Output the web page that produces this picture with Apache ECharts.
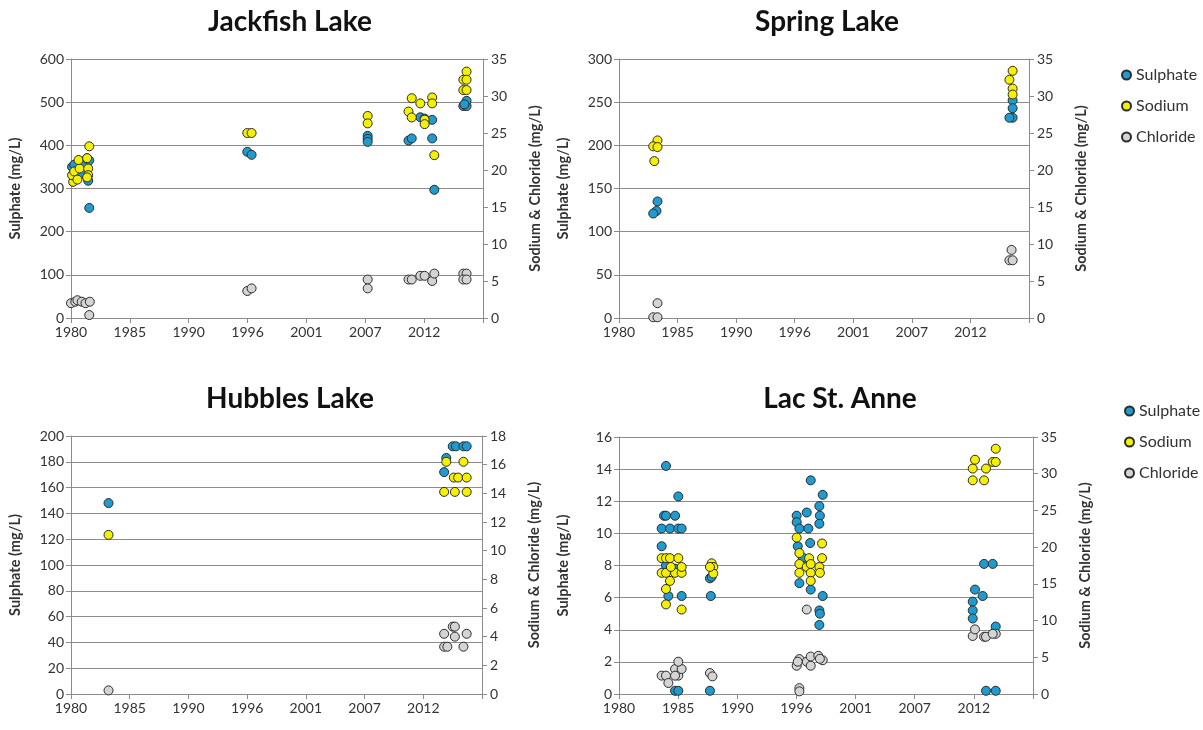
<!DOCTYPE html>
<html>
<head>
<meta charset="utf-8">
<script src="https://cdn.jsdelivr.net/npm/echarts@6/dist/echarts.min.js"></script>
<style>
  html, body { margin: 0; padding: 0; background: #fff; }
  #main { width: 1203px; height: 730px; }
</style>
</head>
<body>
<div id="main"></div>
<script>
// sample dates are decimal years, values in mg/L
var lakeNames = ['Jackfish Lake', 'Spring Lake', 'Hubbles Lake', 'Lac St. Anne'];
var seriesNames = ['Sulphate', 'Sodium', 'Chloride'];

var jackfishSulphate = [
  [1980.1, 350], [1980.3, 355], [1980.5, 340], [1980.8, 345], [1981.0, 335], [1981.3, 360],
  [1981.5, 370], [1981.7, 365], [1981.6, 318], [1981.7, 255],
  [1996.4, 385], [1996.8, 378],
  [2007.6, 422], [2007.6, 415], [2007.6, 408],
  [2011.4, 411], [2011.7, 416], [2012.5, 465], [2012.9, 462],
  [2013.6, 459], [2013.6, 416], [2013.8, 297],
  [2016.5, 491], [2016.8, 491], [2016.8, 503], [2016.6, 495]
];
var jackfishSodium = [
  [1980.2, 18.4], [1980.1, 19.3], [1980.3, 19.8], [1980.6, 18.7], [1980.8, 20.2], [1980.7, 21.35],
  [1981.5, 21.6], [1981.6, 20.2], [1981.6, 19.3], [1981.7, 23.2], [1981.5, 19.0],
  [1996.4, 25.0], [1996.8, 25.0],
  [2007.6, 27.3], [2007.6, 26.3],
  [2011.4, 27.9], [2011.7, 29.7], [2011.7, 27.1],
  [2012.5, 29.0], [2012.9, 26.8], [2012.9, 26.2],
  [2013.6, 29.8], [2013.6, 29.0], [2013.8, 22.0],
  [2016.8, 33.3], [2016.5, 32.2], [2016.8, 32.2], [2016.5, 30.8], [2016.8, 30.8]
];
var jackfishChloride = [
  [1980.0, 2.0], [1980.4, 2.2], [1980.6, 2.4], [1981.0, 2.2], [1981.35, 2.0], [1981.75, 2.2], [1981.7, 0.4],
  [1996.4, 3.65], [1996.8, 4.0],
  [2007.6, 5.2], [2007.6, 4.0],
  [2011.4, 5.2], [2011.7, 5.2],
  [2012.5, 5.7], [2012.9, 5.7],
  [2013.6, 5.0], [2013.8, 6.0],
  [2016.5, 6.0], [2016.8, 6.0], [2016.5, 5.2], [2016.8, 5.2]
];

var springSulphate = [
  [1983.6, 135], [1983.5, 124], [1983.2, 121],
  [2016.8, 252], [2016.8, 243], [2016.8, 232], [2016.5, 232]
];
var springSodium = [
  [1983.6, 24.0], [1983.2, 23.2], [1983.6, 23.1], [1983.3, 21.2],
  [2016.8, 33.4], [2016.5, 32.2], [2016.8, 31.0], [2016.8, 30.2]
];
var springChloride = [
  [1983.6, 2.0], [1983.2, 0.1], [1983.6, 0.1],
  [2016.7, 9.2], [2016.5, 7.8], [2016.8, 7.8]
];

var hubblesSulphate = [
  [1983.5, 148],
  [2015.6, 192], [2015.9, 192], [2016.6, 192], [2016.9, 192], [2015.0, 183], [2014.8, 172]
];
var hubblesSodium = [
  [1983.5, 11.1],
  [2015.0, 16.2], [2016.6, 16.2], [2015.7, 15.1], [2016.1, 15.1], [2016.9, 15.1],
  [2014.8, 14.1], [2015.8, 14.1], [2016.9, 14.1]
];
var hubblesChloride = [
  [1983.5, 0.25],
  [2015.6, 4.7], [2015.8, 4.7], [2014.8, 4.2], [2015.8, 4.0], [2016.9, 4.2],
  [2014.8, 3.3], [2015.1, 3.3], [2016.6, 3.3]
];

var lacSulphate = [
  [1984.35, 14.2], [1984.17, 11.1], [1984.35, 11.1], [1985.19, 11.1], [1983.95, 10.3], [1984.72, 10.3],
  [1985.49, 10.3], [1985.8, 10.3], [1983.95, 9.2], [1985.49, 12.3], [1984.57, 6.1], [1985.8, 6.1],
  [1985.19, 0.2], [1985.49, 0.2], [1984.35, 8.0], [1985.19, 7.8],
  [1988.42, 7.2], [1988.58, 7.3], [1988.5, 6.1], [1988.42, 0.2],
  [1996.45, 11.1], [1996.45, 10.7], [1996.7, 10.3], [1997.53, 10.3], [1997.38, 11.3], [1997.75, 13.3],
  [1998.55, 11.7], [1998.6, 11.1], [1998.55, 10.6], [1998.86, 12.4], [1996.55, 9.2], [1997.7, 9.4],
  [1996.7, 6.9], [1997.75, 6.5], [1998.86, 6.1], [1998.55, 5.2], [1998.6, 5.0], [1998.55, 4.3],
  [1997.0, 8.5], [1997.5, 8.0],
  [2013.8, 8.1], [2014.6, 8.1], [2012.96, 6.5], [2013.67, 6.1], [2012.75, 5.75], [2012.75, 5.2],
  [2012.75, 4.7], [2014.88, 4.2], [2013.98, 0.2], [2014.88, 0.2]
];
var lacSodium = [
  [1983.95, 18.5], [1984.35, 18.5], [1984.72, 18.5], [1985.49, 18.5], [1983.95, 16.5], [1984.35, 16.5],
  [1985.19, 16.5], [1985.8, 16.5], [1984.8, 17.3], [1985.8, 17.3], [1984.72, 15.4], [1984.35, 14.3],
  [1984.35, 12.2], [1985.8, 11.5],
  [1988.58, 17.8], [1988.73, 17.3], [1988.73, 16.4], [1988.42, 17.3],
  [1996.45, 21.3], [1996.7, 19.2], [1997.6, 18.5], [1998.8, 18.5], [1998.8, 20.5], [1996.7, 17.7],
  [1997.38, 17.3], [1997.75, 17.7], [1998.55, 17.3], [1996.7, 16.5], [1997.75, 16.5], [1998.6, 16.5],
  [1997.75, 15.4],
  [2012.75, 29.1], [2013.8, 29.1], [2012.75, 30.7], [2012.96, 31.9], [2013.98, 30.7], [2014.6, 31.6],
  [2014.88, 31.6], [2014.88, 33.4]
];
var lacChloride = [
  [1983.95, 2.5], [1984.35, 2.5], [1985.19, 3.4], [1985.49, 2.5], [1985.8, 3.4], [1985.49, 4.4],
  [1984.57, 1.5], [1985.19, 2.5],
  [1988.42, 2.85], [1988.65, 2.4],
  [1996.7, 4.75], [1997.38, 4.4], [1997.75, 5.1], [1998.45, 5.2], [1998.86, 4.6], [1996.45, 3.85],
  [1997.75, 3.85], [1997.38, 11.5], [1996.7, 0.8], [1996.7, 0.36], [1996.55, 4.4], [1998.6, 4.8],
  [2012.75, 7.9], [2012.96, 8.8], [2013.8, 7.8], [2013.98, 7.8], [2014.88, 8.2], [2014.6, 8.2]
];

// axis ranges per panel
var sulphateMax = [600, 300, 200, 16];
var sulphateStep = [100, 50, 20, 2];
var ionMax = [35, 35, 18, 35];
var ionStep = [5, 5, 2, 5];

var panelData = [
  [jackfishSulphate, jackfishSodium, jackfishChloride],
  [springSulphate, springSodium, springChloride],
  [hubblesSulphate, hubblesSodium, hubblesChloride],
  [lacSulphate, lacSodium, lacChloride]
];

var myChart = echarts.init(document.getElementById('main'), null, { renderer: 'canvas' });

var font = 'Lato, "Open Sans", sans-serif';
var colors = ['#1f9bcf', '#f5f000', '#d4d4d4'];
var grids = [
  { left: 71, top: 59, width: 412, height: 259 },
  { left: 619, top: 59, width: 410, height: 259 },
  { left: 71, top: 436, width: 411, height: 258 },
  { left: 619, top: 437, width: 414, height: 257 }
];
var titleX = [285, 822, 285, 835];
var titleY = [3, 3, 380, 380];

function toDays(yr) {
  return (yr - 1980) * 365.25;
}

var axisLineStyle = { color: '#8c8c8c', width: 1 };
var labelStyle = { color: '#333', fontFamily: font, fontSize: 14 };
var nameStyle = { color: '#333', fontFamily: font, fontSize: 14.5, fontWeight: 'bold' };

var xAxes = [], yAxes = [], series = [], titles = [];
for (var i = 0; i < 4; i++) {
  titles.push({
    text: lakeNames[i],
    left: titleX[i], top: titleY[i],
    textAlign: 'center',
    textStyle: { fontFamily: font, fontSize: 28, fontWeight: 'bold', color: '#111' }
  });
  xAxes.push({
    type: 'value', gridIndex: i,
    min: 0, max: 14000, interval: 2000,
    axisLine: { show: true, onZero: false, lineStyle: axisLineStyle },
    axisTick: { show: true, length: 5, lineStyle: axisLineStyle },
    splitLine: { show: false },
    axisLabel: Object.assign({
      margin: 7,
      formatter: function (v) {
        return v >= 14000 ? '' : String(Math.floor(1980 + v / 365.25));
      }
    }, labelStyle)
  });
  yAxes.push({
    type: 'value', gridIndex: i, position: 'left',
    min: 0, max: sulphateMax[i], interval: sulphateStep[i],
    name: 'Sulphate (mg/L)', nameLocation: 'middle', nameRotate: 90, nameGap: 48,
    nameTextStyle: nameStyle,
    axisLine: { show: true, lineStyle: axisLineStyle },
    axisTick: { show: true, length: 5, lineStyle: axisLineStyle },
    splitLine: { show: true, lineStyle: { color: '#8c8c8c', width: 1 } },
    axisLabel: Object.assign({ margin: 7 }, labelStyle)
  });
  yAxes.push({
    type: 'value', gridIndex: i, position: 'right',
    min: 0, max: ionMax[i], interval: ionStep[i],
    name: 'Sodium & Chloride (mg/L)', nameLocation: 'middle', nameRotate: 90, nameGap: 45,
    nameTextStyle: nameStyle,
    axisLine: { show: true, lineStyle: axisLineStyle },
    axisTick: { show: true, length: 5, lineStyle: axisLineStyle },
    splitLine: { show: false },
    axisLabel: Object.assign({ margin: 8 }, labelStyle)
  });
  for (var s = 0; s < 3; s++) {
    series.push({
      name: seriesNames[s],
      type: 'scatter',
      xAxisIndex: i,
      yAxisIndex: i * 2 + (s === 0 ? 0 : 1),
      symbol: 'circle',
      symbolSize: 9,
      itemStyle: { color: colors[s], borderColor: '#2b2b2b', borderWidth: 1, opacity: 1 },
      emphasis: { disabled: true },
      data: panelData[i][s].map(function (p) { return [toDays(p[0]), p[1]]; })
    });
  }
}

var legendBase = {
  orient: 'vertical',
  data: seriesNames,
  icon: 'circle',
  itemWidth: 9, itemHeight: 9,
  itemGap: 13,
  textStyle: { fontFamily: font, fontSize: 16, color: '#333', lineHeight: 18 }
};

var option = {
  backgroundColor: '#fff',
  animation: false,
  title: titles,
  legend: [
    Object.assign({ left: 1116, top: 61 }, legendBase),
    Object.assign({ left: 1119, top: 397 }, legendBase)
  ],
  grid: grids,
  xAxis: xAxes,
  yAxis: yAxes,
  series: series
};

myChart.setOption(option);
window.addEventListener('resize', myChart.resize);
</script>
</body>
</html>
